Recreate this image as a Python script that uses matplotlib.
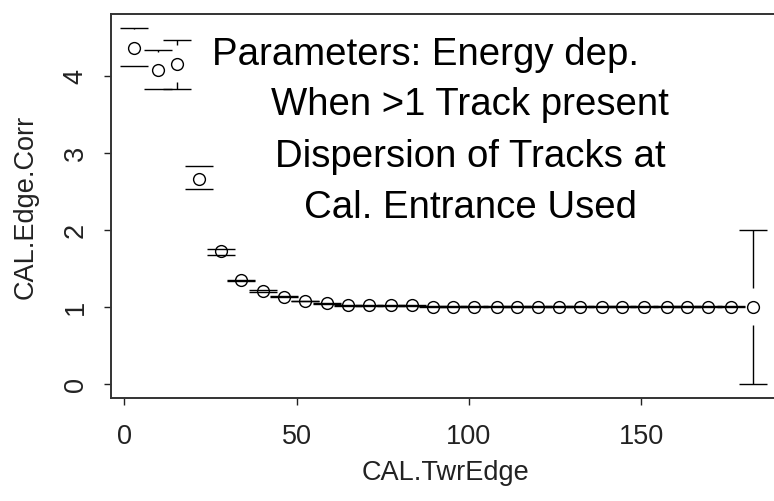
import matplotlib
matplotlib.use("Agg")
import matplotlib.pyplot as plt
import numpy as np

# ---- data ----
twr_edge = [2.8, 9.6, 15.4, 21.7, 27.9, 33.8, 40.3, 46.3, 52.4, 58.9,
            65.0, 71.0, 77.3, 83.4, 89.7, 95.5, 101.5, 108.2, 114.0, 120.0,
            126.2, 132.2, 138.6, 144.5, 150.8, 157.4, 163.2, 169.5, 176.0, 182.4]
edge_corr = [4.36, 4.07, 4.15, 2.66, 1.72, 1.34, 1.205, 1.127, 1.075, 1.045,
             1.02, 1.02, 1.02, 1.02, 1.0, 1.0, 1.0, 1.0, 1.0, 1.0,
             1.0, 1.0, 1.0, 1.0, 1.0, 1.0, 1.0, 1.0, 1.0, 1.0]
ci_low = [4.125, 3.826, 3.822, 2.532, 1.668, 1.335, 1.192, 1.12, 1.07, 1.04,
          1.015, 1.015, 1.015, 1.015, 0.997, 0.997, 0.997, 0.997, 0.997, 0.997,
          0.997, 0.997, 0.997, 0.997, 0.997, 0.997, 0.997, 0.997, 0.997, 0.0]
ci_high = [4.614, 4.325, 4.462, 2.826, 1.755, 1.345, 1.212, 1.134, 1.08, 1.05,
           1.025, 1.025, 1.025, 1.025, 1.003, 1.003, 1.003, 1.003, 1.003, 1.003,
           1.003, 1.003, 1.003, 1.003, 1.003, 1.003, 1.003, 1.003, 1.003, 2.0]
x_ticks = [0, 50, 100, 150]
y_ticks = [0, 1, 2, 3, 4]
x_label = "CAL.TwrEdge"
y_label = "CAL.Edge.Corr"
note_first = "Parameters: Energy dep."
note_rest = ["When >1 Track present", "Dispersion of Tracks at", "Cal. Entrance Used"]

W, H = 774, 502
fig = plt.figure(figsize=(W / 100, H / 100), dpi=100)
# axes box in pixels: left 111, top 14.5, bottom 399, right beyond the image (cropped)
ax = fig.add_axes([111 / W, (H - 399) / H, 668.7 / W, 384.5 / H])
ax.set_xlim(-3.9, 190.2)
ax.set_ylim(-0.185, 4.805)

tick_font = "Liberation Sans"
fs = 19.5

x = np.array(twr_edge)
y = np.array(edge_corr)
lo = np.array(ci_low)
hi = np.array(ci_high)

# caps (plotCI style), shafts drawn with a gap around each point
ax.errorbar(x, y, yerr=[y - lo, hi - y], fmt="none", ecolor="black",
            elinewidth=0, capsize=10, capthick=1.0, zorder=2)
gap = 0.24
for xi, yi, l, h in zip(x, y, lo, hi):
    if h - yi > gap:
        ax.vlines(xi, yi + gap, h, color="black", lw=1.0, zorder=2)
    if yi - l > gap:
        ax.vlines(xi, l, yi - gap, color="black", lw=1.0, zorder=2)

ax.plot(x, y, linestyle="none", marker="o", ms=8.5, mfc="none",
        mec="black", mew=1.0, zorder=3)

ax.set_xticks(x_ticks)
ax.set_yticks(y_ticks)
ax.set_xticklabels([str(t) for t in x_ticks], fontsize=fs, family=tick_font)
ax.set_yticklabels([str(t) for t in y_ticks], fontsize=fs, family=tick_font,
                   rotation=90, va="center")
ax.tick_params(axis="x", direction="out", length=5, width=1.0, pad=13, colors="#222222")
ax.tick_params(axis="y", direction="out", length=5, width=1.0, pad=11, colors="#222222")

for s in ax.spines.values():
    s.set_linewidth(1.4)
    s.set_color("#333333")

ax.set_xlabel(x_label, fontsize=fs, family=tick_font, color="#222222")
ax.xaxis.set_label_coords(0.5, -0.158)
ax.set_ylabel(y_label, fontsize=fs, family=tick_font, color="#222222")
ax.yaxis.set_label_coords(-0.108, 0.5)

note_font = "Liberation Sans"
nfs = 27.6
fig.text(212 / W, 1 - 65 / H, note_first, fontsize=nfs, family=note_font,
         ha="left", va="baseline")
for line, base in zip(note_rest, [115, 167, 218]):
    fig.text(470 / W, 1 - base / H, line, fontsize=nfs, family=note_font,
             ha="center", va="baseline")

fig.savefig("out.png", dpi=100)
